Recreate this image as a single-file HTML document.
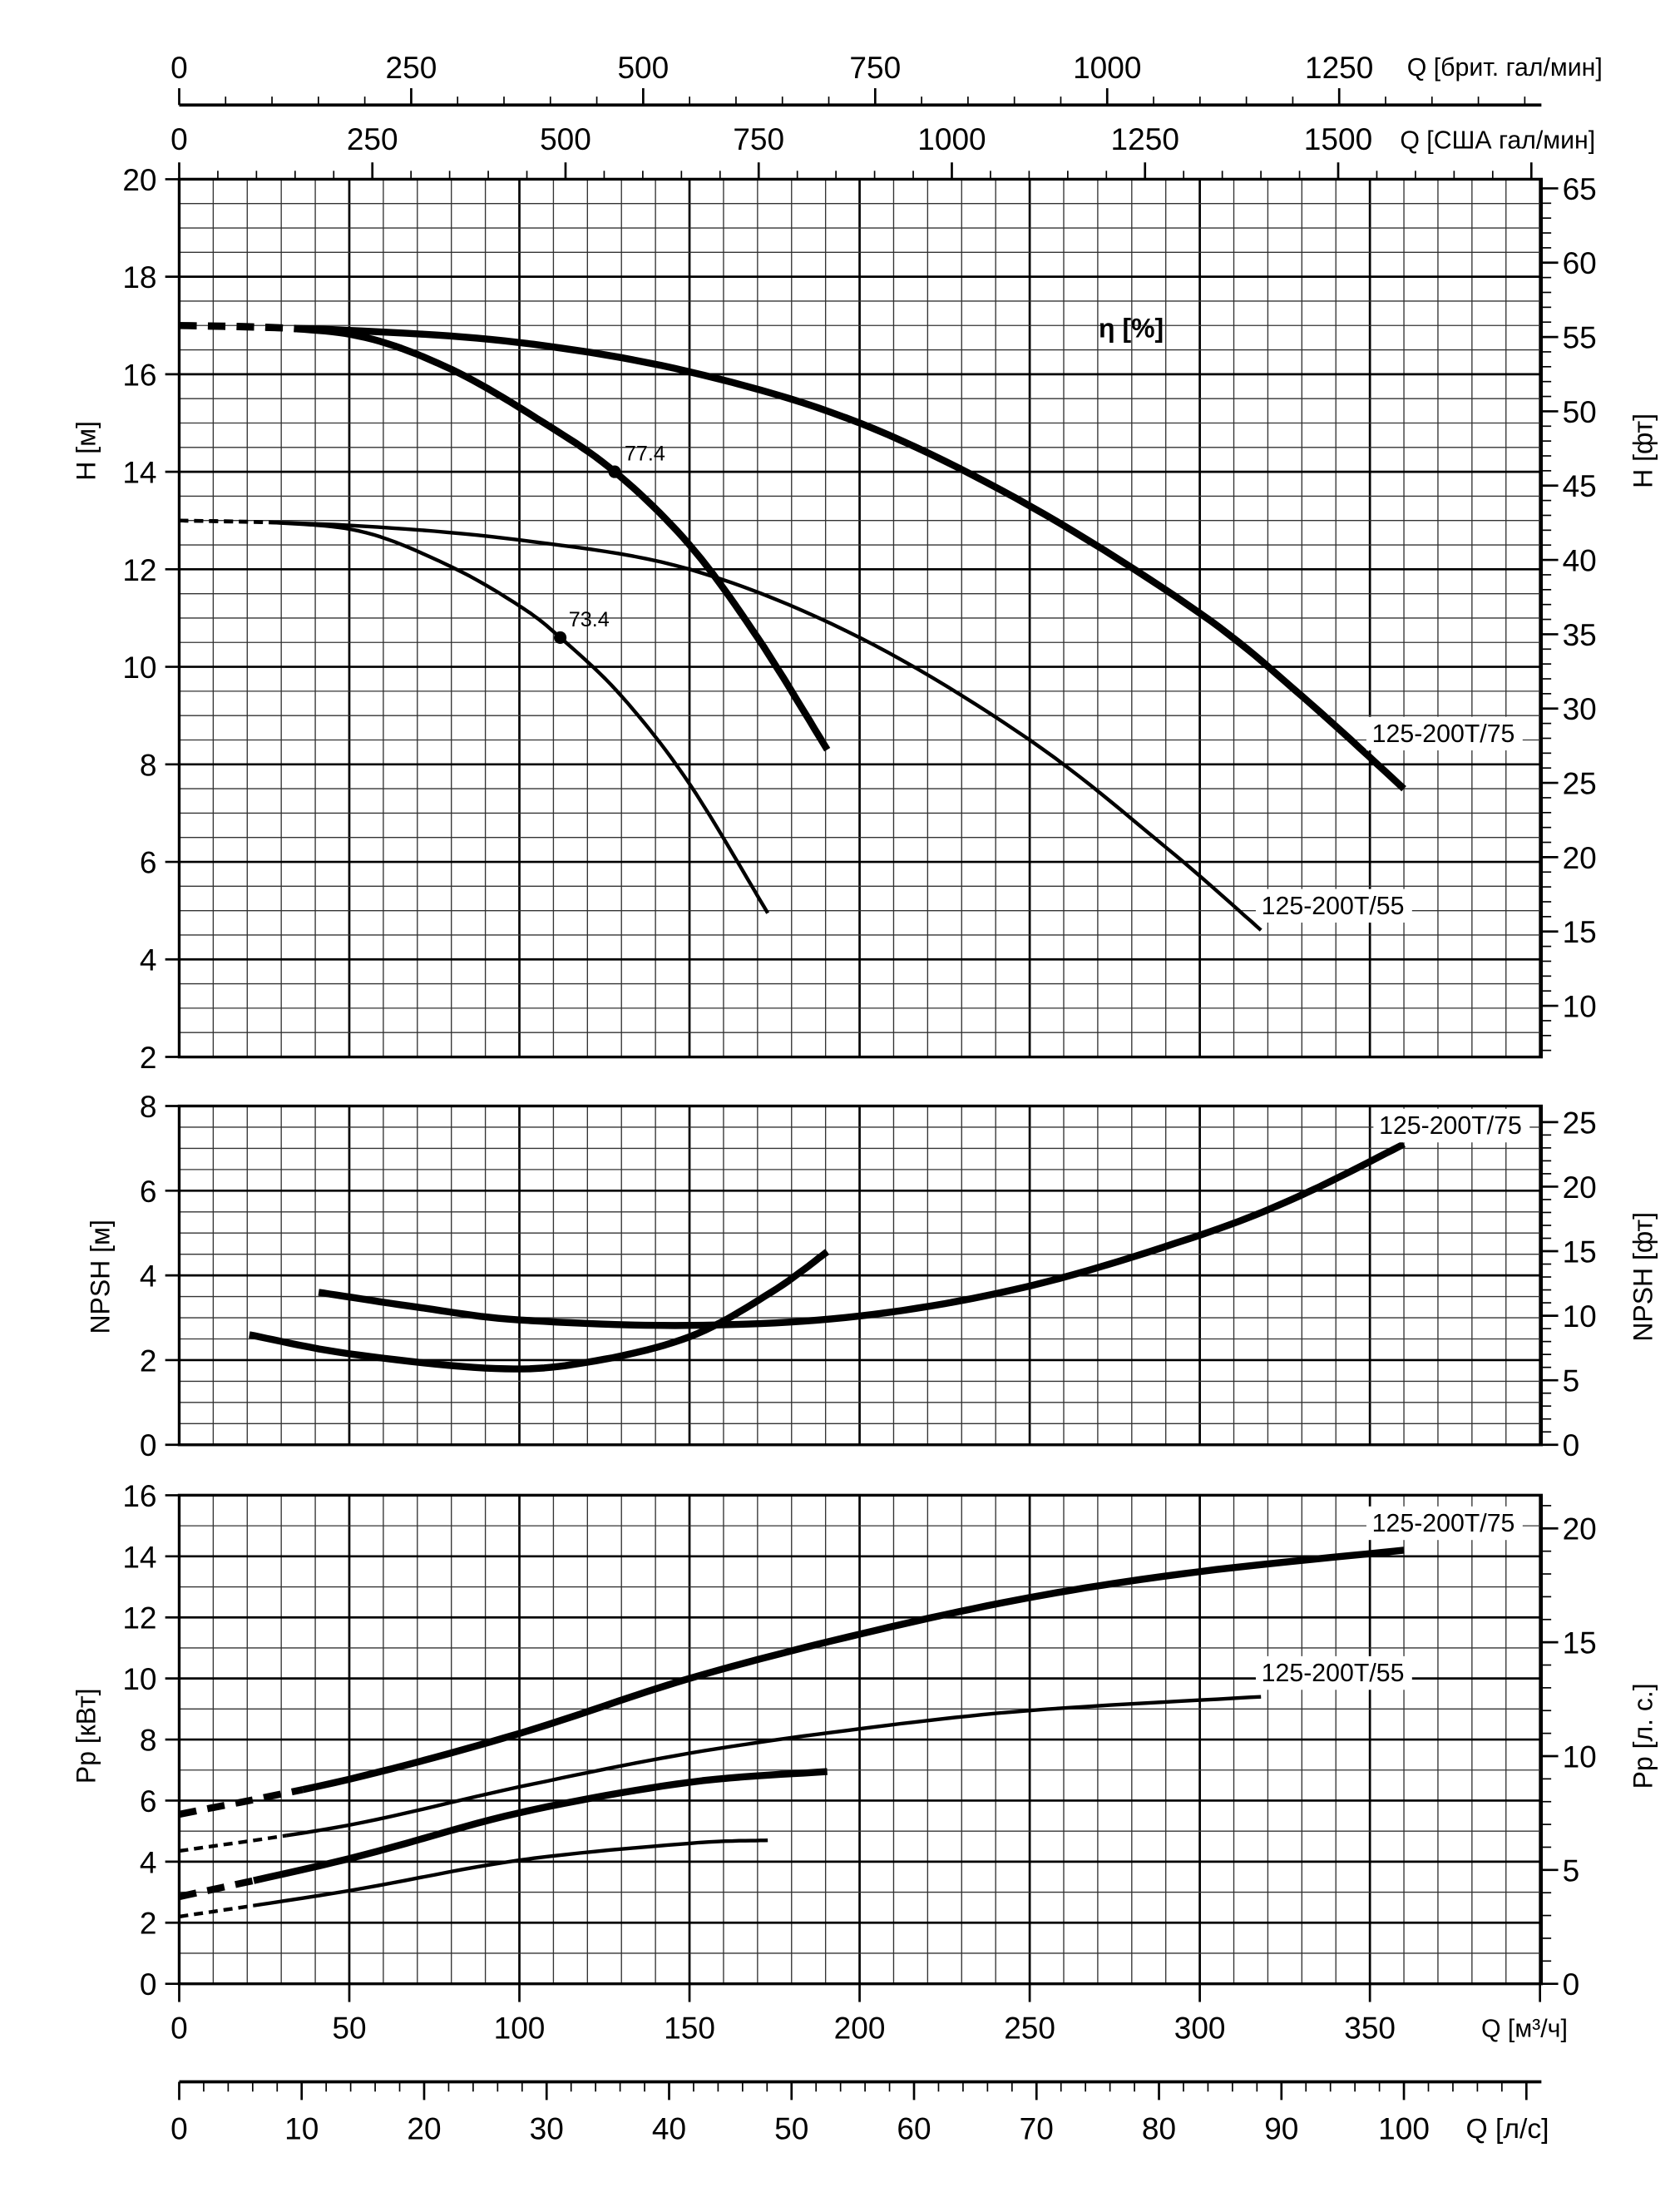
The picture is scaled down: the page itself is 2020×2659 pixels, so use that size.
<!DOCTYPE html>
<html><head><meta charset="utf-8"><style>
html,body{margin:0;padding:0;background:#fff}
svg{display:block}
text{font-family:"Liberation Sans",sans-serif;fill:#000}
</style></head><body>
<svg id="s" width="2020" height="2659" viewBox="0 0 1200 1580" preserveAspectRatio="none" xmlns="http://www.w3.org/2000/svg"></svg>
<script>
const s=document.getElementById('s');let o='';
const L=128,R=1101;
const X=q=>L+q*2.43;
const Yh=h=>128+(20-h)*34.83, Yn=n=>1032-n*30.25, Yp=p=>1417-p*21.81;
function ln(x1,y1,x2,y2,w,c){o+=`<line x1="${x1}" y1="${y1}" x2="${x2}" y2="${y2}" stroke="${c||'#000'}" stroke-width="${w}"/>`;}
function tx(x,y,t,sz,anc,extra){o+=`<text x="${x}" y="${y}" font-size="${sz}" text-anchor="${anc||'middle'}" ${extra||''}>${t}</text>`;}
function panel(top,bot,yf,vmin,vmax,minStep,majStep){
  for(let q=0;q<=400;q+=10){const x=X(q);const maj=q%50==0;ln(x,top,x,bot,maj?1.6:0.8,maj?'#000':'#333');}
  for(let v=vmin;v<=vmax+1e-6;v+=minStep){const y=yf(v);const maj=Math.abs(v/majStep-Math.round(v/majStep))<1e-6;ln(L,y,R,y,maj?1.6:0.8,maj?'#000':'#333');if(maj){ln(L-10,y,L,y,1.6);}}
  o+=`<rect x="${L}" y="${top}" width="${R-L}" height="${bot-top}" fill="none" stroke="#000" stroke-width="2"/>`;
}
panel(128,755,Yh,2,20,0.5,2);
for(let v=2;v<=20;v+=2)tx(112,Yh(v)+8,v,22,'end');
panel(790,1032,Yn,0,8,0.5,2);
for(let v=0;v<=8;v+=2)tx(112,Yn(v)+8,v,22,'end');
panel(1068,1417,Yp,0,16,1,2);
for(let v=0;v<=16;v+=2)tx(112,Yp(v)+8,v,22,'end');
function rax(yf,f,vmin,vmax,top,bot){for(let v=vmin;v<=vmax;v++){const y=yf(v*f);if(y<top-1||y>bot+1)continue;const maj=v%5==0;ln(R,y,R+(maj?12:7),y,maj?1.6:1);if(maj)tx(1116,y+8,v,22,'start');}}
rax(Yh,0.3048,7,65,128,755);
rax(Yn,0.3048,0,25,790,1032);
rax(Yp,0.7457,0,21,1068,1417);
for(let q=0;q<=400;q+=50){ln(X(q),1417,X(q),1430,1.6);if(q<400)tx(X(q),1456,q,22);}
tx(1058,1455,'Q [м³/ч]',18,'start');
ln(L,1487,R,1487,2.2);
for(let v=0;v<=110;v+=2){const x=X(v*3.6);if(x>R+1)break;const maj=v%10==0;ln(x,1487,x,1487+(maj?13:7),maj?1.6:1);if(maj&&v<=100)tx(x,1528,v,22);}
tx(1047,1527,'Q [л/с]',20,'start');
ln(L,75,R,75,2.2);
for(let g=0;g<=1450;g+=50){const x=L+g/3.666*2.43;if(x>R+1)break;const maj=g%250==0;ln(x,75,x,75-(maj?12:6),maj?1.6:1);if(maj)tx(x,56,g,22);}
tx(1005,54,'Q [брит. гал/мин]',18,'start');
for(let g=0;g<=1750;g+=50){const x=L+g/4.403*2.43;if(x>R+1)break;const maj=g%250==0;ln(x,128,x,128-(maj?12:6),maj?1.6:1);if(maj&&g<=1500)tx(x,107,g,22);}
tx(1000,106,'Q [США гал/мин]',18,'start');
function vt(x,y,t){o+=`<text x="${x}" y="${y}" font-size="19" text-anchor="middle" transform="rotate(-90 ${x} ${y})">${t}</text>`;}
vt(68,322,'H [м]');vt(1180,322,'H [фт]');vt(78,912,'NPSH [м]');vt(1180,912,'NPSH [фт]');vt(68,1240,'Pp [кВт]');vt(1180,1240,'Pp [л. с.]');
function path(pts,yf,w,dash){let d='';pts.forEach((p,i)=>{d+=(i?'L':'M')+X(p[0]).toFixed(1)+','+yf(p[1]).toFixed(1);});o+=`<path d="${d}" fill="none" stroke="#000" stroke-width="${w}" stroke-linecap="butt" stroke-linejoin="round" ${dash?'stroke-dasharray="'+dash+'"':''}/>`;}
function smooth(pts,n){
 const out=[];for(let i=0;i<pts.length-1;i++){const p0=pts[Math.max(0,i-1)],p1=pts[i],p2=pts[i+1],p3=pts[Math.min(pts.length-1,i+2)];for(let t=0;t<1;t+=1/n){const t2=t*t,t3=t2*t;const f=(a,b,c,d)=>0.5*((2*b)+(-a+c)*t+(2*a-5*b+4*c-d)*t2+(-a+3*b-3*c+d)*t3);out.push([f(p0[0],p1[0],p2[0],p3[0]),f(p0[1],p1[1],p2[1],p3[1])]);}}out.push(pts[pts.length-1]);return out;}
function curve(pts,yf,w,dq){const sp=smooth(pts,12);const a=sp.filter(p=>p[0]<=dq),b=sp.filter(p=>p[0]>=dq);if(dq>0&&a.length>1){a.push(b[0]);path(a,yf,w,(w*2.5)+' '+(w*1.6));}path(b,yf,w);}
curve([[0,17],[50,16.9],[100,16.65],[150,16.05],[200,15.0],[250,13.3],[300,11.1],[330,9.4],[360,7.5]],Yh,5,33);
curve([[0,17],[30,16.95],[55,16.75],[80,16.1],[105,15.1],[128,14.0],[150,12.5],[170,10.6],[190.5,8.3]],Yh,5,33);
curve([[0,13],[50,12.9],[100,12.6],[150,12.0],[200,10.6],[250,8.5],[290,6.3],[318,4.6]],Yh,2.6,25);
curve([[0,13],[30,12.95],[55,12.75],[80,12.05],[100,11.25],[112,10.6],[130,9.4],[150,7.6],[173,4.95]],Yh,2.6,25);
o+=`<circle cx="${X(128)}" cy="${Yh(14)}" r="4.5"/><circle cx="${X(112)}" cy="${Yh(10.6)}" r="4.5"/>`;
tx(X(128)+7,Yh(14)-8,'77.4',15,'start');tx(X(112)+6,Yh(10.6)-8,'73.4',15,'start');
tx(808,241,'η [%]',19,'middle','font-weight="bold"');
function lab(x,y,t){o+=`<rect x="${x-4}" y="${y-18}" width="${t.length*9.6+6}" height="24" fill="#fff"/>`;tx(x,y,t,18,'start');}
lab(980,530,'125-200T/75');lab(901,653,'125-200T/55');
curve([[41,3.6],[70,3.25],[100,2.95],[150,2.82],[200,3.04],[250,3.75],[300,4.95],[330,5.9],[360,7.1]],Yn,5,0);
curve([[20.6,2.6],[50,2.15],[93,1.8],[120,1.95],[150,2.55],[174,3.6],[190.5,4.56]],Yn,5,0);
lab(985,810,'125-200T/75');
curve([[0,5.55],[50,6.7],[100,8.2],[150,10.0],[200,11.45],[250,12.65],[300,13.5],[360,14.2]],Yp,5,34);
curve([[0,4.35],[50,5.2],[100,6.45],[150,7.55],[200,8.35],[250,8.95],[318,9.4]],Yp,2.6,30);
curve([[0,2.85],[50,4.1],[100,5.6],[150,6.6],[190.5,6.95]],Yp,5,20);
curve([[0,2.2],[50,3.05],[100,4.05],[150,4.6],[173,4.7]],Yp,2.6,20);
lab(980,1094,'125-200T/75');lab(901,1201,'125-200T/55');
s.innerHTML=o;
</script>
</body></html>
